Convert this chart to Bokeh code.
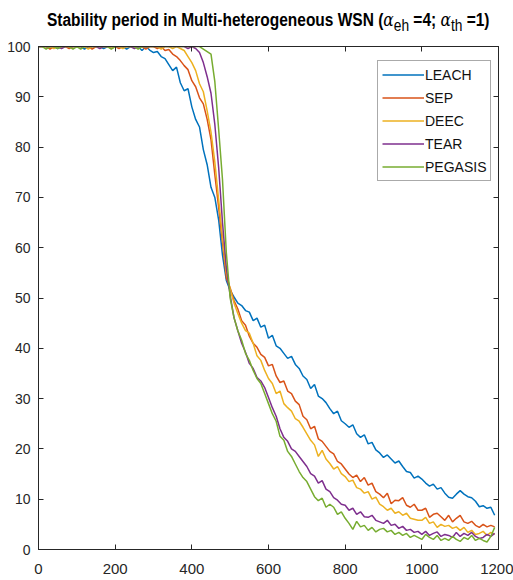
from bokeh.plotting import figure
from bokeh.models import Div, Range1d, FixedTicker, LinearAxis
from bokeh.layouts import column
from bokeh.embed import file_html
from bokeh.resources import INLINE

ROUNDS = list(range(0, 1200, 10))

LEACH = [
    100, 100, 100, 100, 100, 99.6, 100, 100, 100, 100,
    100, 100, 99.5, 100, 100, 100, 100, 99.6, 100, 100,
    100, 100, 100, 99.5, 100, 100, 100, 99.2, 100, 99.3,
    98.8, 99.0, 98.0, 97.6, 96.4, 95.2, 95.9, 92.8, 91.2, 91.6,
    88.0, 85.5, 84.0, 79.5, 76.5, 72.0, 70.0, 65.5, 58.5, 53.5,
    51.5, 50.2, 49.0, 48.5, 47.5, 47.2, 45.5, 46.0, 44.2, 44.6,
    42.0, 42.6, 40.5, 40.0, 39.0, 38.0, 38.4, 36.8, 36.0, 34.5,
    33.8, 32.0, 32.8, 30.5, 30.0, 29.2, 28.0, 27.0, 27.5, 25.6,
    25.0, 24.3, 24.8, 23.0, 22.3, 22.8, 21.0, 21.3, 19.8, 19.2,
    18.3, 18.8, 18.0, 17.2, 17.6, 16.5, 15.5, 15.3, 14.2, 14.6,
    14.0, 13.2, 12.6, 13.0, 12.0, 12.3, 11.2, 10.4, 10.2, 11.0,
    11.7, 11.0, 10.5, 10.3, 9.6, 8.5, 8.7, 8.2, 8.4, 6.8,
]

SEP = [
    100, 100, 100, 99.5, 100, 100, 100, 100, 99.6, 100,
    100, 100, 100, 100, 99.5, 100, 100, 100, 100, 100,
    100, 99.6, 100, 100, 100, 100, 100, 100, 99.5, 100,
    100, 99.6, 100, 99.2, 99.4, 98.5, 98.0, 97.2, 96.2, 95.4,
    93.2, 92.0, 89.8, 88.6, 85.5, 81.5, 74.5, 68.0, 61.0, 54.0,
    52.0, 49.5, 47.8, 45.5, 44.6, 42.4, 41.0, 40.2, 38.8, 38.2,
    36.5, 36.8, 34.5, 33.2, 33.5, 31.5, 31.0, 29.5, 28.8, 26.5,
    25.8, 24.0, 24.5, 22.0, 21.5, 20.5, 19.5, 19.0, 17.5, 17.0,
    16.0, 15.0, 14.3, 14.8, 13.5, 14.3, 12.8, 13.2, 11.5, 11.0,
    10.3, 11.2, 9.1, 9.8, 9.7, 10.3, 8.8, 8.4, 9.0, 7.8,
    7.8, 8.2, 6.4, 7.0, 7.2, 6.5, 5.8, 6.8, 5.5, 6.2,
    6.8, 5.5, 5.2, 5.6, 4.8, 4.4, 5.0, 4.5, 4.8, 4.5,
]

DEEC = [
    100, 100, 100, 100, 99.6, 100, 100, 100, 100, 100,
    100, 100, 100, 99.5, 100, 100, 100, 100, 100, 99.6,
    100, 100, 99.6, 100, 100, 100, 100, 100, 100, 100,
    100, 100, 99.5, 100, 100, 99.6, 100, 99.6, 99.2, 98.0,
    96.8, 95.2, 92.6, 91.0, 87.2, 83.0, 77.0, 69.5, 62.0, 55.0,
    51.8, 49.0, 46.9, 45.0, 43.5, 43.0, 41.0, 38.5, 37.6, 35.6,
    34.0, 33.0, 31.0, 31.5, 29.0, 28.2, 27.5, 26.0, 25.5, 24.3,
    23.0, 21.7, 20.8, 18.5, 19.7, 18.0, 17.1, 16.0, 16.5, 15.1,
    14.5, 13.5, 13.8, 12.3, 12.0, 11.2, 11.5, 10.0, 10.4, 9.0,
    8.5, 7.8, 8.2, 7.2, 7.5, 6.8, 7.2, 6.2, 6.0, 5.8,
    5.8, 6.4, 5.2, 5.5, 4.4, 5.0, 4.6, 4.8, 4.2, 4.5,
    3.8, 4.4, 3.4, 3.8, 3.0, 3.2, 3.6, 2.8, 3.4, 3.0,
]

TEAR = [
    100, 100, 100, 100, 100, 100, 99.6, 100, 100, 100,
    100, 100, 100, 100, 100, 100, 99.6, 100, 100, 100,
    100, 100, 100, 100, 100, 99.6, 100, 100, 100, 100,
    100, 100, 100, 100, 100, 100, 100, 100, 100, 99.6,
    100, 99.6, 98.8, 96.8, 94.0, 90.7, 84.5, 75.9, 65.0, 56.0,
    50.5, 46.1, 43.5, 41.0, 39.2, 37.0, 36.0, 34.2, 33.5, 32.2,
    30.2, 28.2, 26.5, 24.0, 22.3, 21.5, 20.0, 19.5, 18.5, 17.5,
    16.5, 15.1, 14.6, 13.2, 13.7, 12.0, 11.5, 10.3, 9.8, 9.0,
    8.8, 7.8, 8.2, 7.0, 7.5, 6.5, 6.4, 6.8, 5.8, 5.5,
    5.2, 5.8, 4.8, 5.0, 4.2, 4.6, 3.8, 4.0, 3.4, 3.6,
    3.0, 3.6, 2.8, 3.2, 3.5, 2.6, 3.0, 2.8, 2.4, 3.4,
    2.6, 3.2, 2.8, 3.4, 2.6, 2.2, 2.4, 3.0, 2.6, 3.2,
]

PEGASIS = [
    100, 100, 99.5, 100, 100, 99.6, 100, 100, 100, 99.5,
    100, 99.5, 100, 100, 100, 100, 100, 100, 100, 99.5,
    100, 100, 100, 100, 100, 100, 99.5, 100, 100, 100,
    100, 100, 100, 100, 100, 100, 100, 100, 100, 100,
    100, 100, 100, 99.5, 99.0, 98.5, 93.0, 83.5, 73.5, 59.0,
    50.0, 46.1, 43.5, 41.6, 39.0, 37.6, 35.6, 34.0, 33.0, 31.0,
    29.0, 27.0, 25.5, 22.5, 21.7, 19.5, 18.5, 17.0, 15.5, 14.3,
    13.5, 12.0, 10.5, 9.7, 10.2, 8.4, 9.0, 8.4, 7.0, 7.5,
    6.2, 5.2, 4.0, 5.6, 4.5, 4.8, 3.8, 4.4, 3.5, 4.0,
    4.2, 3.5, 3.8, 3.0, 3.4, 2.8, 3.2, 2.4, 2.8, 2.4,
    2.0, 3.0, 2.4, 2.0, 2.8, 1.8, 2.2, 1.8, 2.6, 2.0,
    1.6, 2.4, 2.0, 2.8, 1.8, 2.2, 1.8, 1.5, 2.6, 4.4,
]

SERIES = [
    ("LEACH", LEACH, "#0072BD"),
    ("SEP", SEP, "#D95319"),
    ("DEEC", DEEC, "#EDB120"),
    ("TEAR", TEAR, "#7E2F8E"),
    ("PEGASIS", PEGASIS, "#77AC30"),
]

X_TICKS = [0, 200, 400, 600, 800, 1000, 1200]
Y_TICKS = [0, 10, 20, 30, 40, 50, 60, 70, 80, 90, 100]

FONT = "Liberation Sans"
DARK = "#262626"

title_html = (
    '<div style="width:513px;height:38px;display:flex;justify-content:center;align-items:center;'
    'padding-left:24px;padding-top:6px;box-sizing:border-box;">'
    '<span style="display:inline-block;white-space:nowrap;transform:scaleX(0.86);transform-origin:center;'
    'font-family:\'Liberation Sans\',sans-serif;font-weight:bold;font-size:18px;color:#000;">'
    'Stability period in Multi-heterogeneous WSN ('
    '<span style="font-family:\'DejaVu Serif\';font-style:italic;font-weight:normal;">&alpha;</span>'
    '<sub style="font-weight:normal;font-size:16px;">eh</sub> =4; '
    '<span style="font-family:\'DejaVu Serif\';font-style:italic;font-weight:normal;">&alpha;</span>'
    '<sub style="font-weight:normal;font-size:16px;">th</sub> =1)'
    '</span></div>'
)
title = Div(text=title_html, width=513, height=38, margin=(0, 0, 0, 0))

p = figure(
    frame_width=460, frame_height=503,
    x_range=Range1d(0, 1200), y_range=Range1d(0, 100),
    output_backend="svg", toolbar_location=None,
    min_border_left=38, min_border_right=15, min_border_top=8, min_border_bottom=31,
    background_fill_color="white", border_fill_color="white",
)
p.margin = (0, 0, 0, 0)
p.xgrid.visible = False
p.ygrid.visible = False
p.outline_line_color = DARK
p.outline_line_width = 1

for name, vals, color in SERIES:
    p.line(ROUNDS, vals, line_color=color, line_width=1.5, legend_label=name)

def style_axis(ax, ticks, size, show_labels=True):
    ax.ticker = FixedTicker(ticks=ticks)
    ax.major_tick_in = 5
    ax.major_tick_out = 0
    ax.minor_tick_line_color = None
    ax.axis_line_color = DARK
    ax.major_tick_line_color = DARK
    ax.major_label_text_font = FONT
    ax.major_label_text_font_size = size
    ax.major_label_text_color = DARK if show_labels else None

style_axis(p.xaxis[0], X_TICKS, "15px")
style_axis(p.yaxis[0], Y_TICKS, "14px")
p.xaxis[0].major_label_standoff = 14
p.yaxis[0].major_label_standoff = 8

top_ax = LinearAxis()
style_axis(top_ax, X_TICKS, "1px", show_labels=False)
top_ax.major_label_standoff = 0
p.add_layout(top_ax, "above")
right_ax = LinearAxis()
style_axis(right_ax, Y_TICKS, "1px", show_labels=False)
right_ax.major_label_standoff = 0
p.add_layout(right_ax, "right")

lg = p.legend[0]
lg.location = (339, 368)
lg.margin = 0
lg.border_line_color = "#555555"
lg.border_line_width = 1.5
lg.background_fill_color = "white"
lg.background_fill_alpha = 1
lg.label_text_font = FONT
lg.label_text_font_size = "14px"
lg.label_text_color = "#111111"
lg.glyph_width = 42
lg.glyph_height = 19
lg.label_height = 19
lg.label_standoff = 1
lg.spacing = 4
lg.padding = 4

layout = column(title, p, spacing=0)

open("out.html", "w").write(file_html(layout, INLINE))
